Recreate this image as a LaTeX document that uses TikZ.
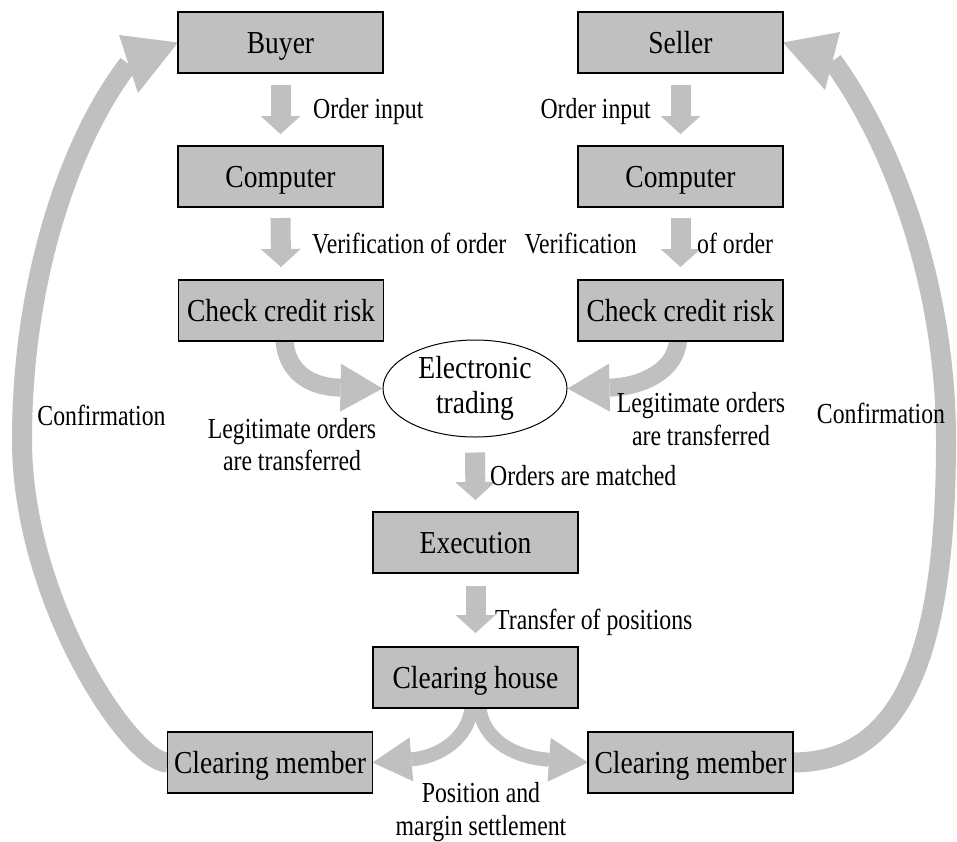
\documentclass[tikz,border=0pt]{standalone}
\usepackage{fontspec}
\setmainfont{Liberation Serif}
\newfontfamily\boxfont{Liberation Serif}[FakeStretch=0.86]
\newfontfamily\lblfont{Liberation Serif}[FakeStretch=0.82]
\usetikzlibrary{shapes.geometric,arrows.meta,backgrounds}
\definecolor{fillgray}{HTML}{C0C0C0}
\begin{document}
\begin{tikzpicture}[x=1pt,y=-1pt,
  box/.style={draw=black, line width=1.2pt, fill=fillgray, minimum width=205pt, minimum height=61pt,
    inner sep=0pt, outer sep=0pt, font=\boxfont\fontsize{32}{36}\selectfont, text height=21pt, text depth=0pt},
  lbl/.style={inner sep=0pt, font=\lblfont\fontsize{29}{33}\selectfont},
  vflow/.style={draw=fillgray, line width=20pt, -{Triangle[width=40pt,length=18pt,line width=0pt]}},
  midflow/.style={draw=fillgray, line width=18pt, -{Triangle[width=48pt,length=42pt,line width=0pt]}},
  forkflow/.style={draw=fillgray, line width=14pt, -{Triangle[width=44pt,length=39pt,line width=0pt]}},
  bigshaft/.style={draw=fillgray, line width=20pt},
  bighead/.style={fill=fillgray}
]
\useasboundingbox (0,0) rectangle (957,841);

% boxes
\node[box] (buyer)  at (280.5,42.5)  {Buyer};
\node[box] (seller) at (680.5,42.5)  {Seller};
\node[box] (compL)  at (280.5,176.5) {Computer};
\node[box] (compR)  at (680.5,176.5) {Computer};
\node[box] (checkL) at (281,310.5)   {Check credit risk};
\node[box] (checkR) at (680.5,310.5) {Check credit risk};
\node[draw=black, line width=1pt, ellipse, minimum width=184pt, minimum height=97pt, inner sep=0pt,
      align=center, font=\boxfont\fontsize{32}{35}\selectfont] (elec) at (475,388.5) {Electronic\\trading};
\node[box] (exec)   at (475.5,542.5) {Execution};
\node[box] (ch)     at (475.5,677.5) {Clearing house};
\node[box] (cmL)    at (270,762.5)   {Clearing member};
\node[box] (cmR)    at (690.5,762.5) {Clearing member};

% labels
\node[lbl, anchor=base west] (oiL)  at (313,118) {Order input};
\node[lbl, anchor=base east] (oiR)  at (651,118) {Order input};
\node[lbl, anchor=base west] (voL)  at (312,253) {Verification of order};
\node[lbl, anchor=base east] (voR1) at (637,253) {Verification};
\node[lbl, anchor=base west] (voR2) at (697,253) {of order};
\node[lbl, anchor=base] (confL) at (101.5,425) {Confirmation};
\node[lbl, anchor=base] (confR) at (881,423) {Confirmation};
\node[lbl, anchor=base] (legL1) at (292,438) {Legitimate orders};
\node[lbl, anchor=base] (legL2) at (292,470) {are transferred};
\node[lbl, anchor=base] (legR1) at (701,412) {Legitimate orders};
\node[lbl, anchor=base] (legR2) at (701,445) {are transferred};
\node[lbl, anchor=base west] (om) at (490,485) {Orders are matched};
\node[lbl, anchor=base west] (tp) at (495,629) {Transfer of positions};
\node[lbl, anchor=base] (pm1) at (481,802) {Position and};
\node[lbl, anchor=base] (pm2) at (481,835) {margin settlement};

\begin{pgfonlayer}{background}
% straight arrows
\draw[vflow] ([yshift=-12pt]buyer.south) -- ([yshift=12pt]compL.north);
\draw[vflow] ([yshift=-12pt]seller.south) -- ([yshift=12pt]compR.north);
\draw[vflow] ([yshift=-11pt]compL.south) -- ([yshift=13pt]checkL.north);
\draw[vflow] ([yshift=-11pt]compR.south) -- ([yshift=13pt]checkR.north);
\draw[vflow] ([yshift=-15pt]elec.south) -- ([yshift=12pt]exec.north);
\draw[vflow] ([yshift=-13pt]exec.south) -- ([yshift=14pt]ch.north);
% curved arrows into the ellipse
\draw[midflow] ([xshift=3.5pt]checkL.south) .. controls (287,372) and (310,387) .. (elec.west);
\draw[midflow] ([xshift=-2.5pt]checkR.south) .. controls (675,372) and (640,387) .. (elec.east);
% fork from clearing house
\draw[forkflow] ([xshift=-4pt]ch.south) .. controls (468,738) and (440,757) .. (cmL.east);
\draw[forkflow] ([xshift=4pt]ch.south) .. controls (483,738) and (511,757) .. (cmR.west);
% big confirmation arrows
\coordinate (hL) at (128.5,64);
\coordinate (hR) at (832.5,61);
\draw[bigshaft] (cmL.west) .. controls (130,762) and (22,600) .. (22,440) .. controls (22,280) and (70,140) .. (hL);
\fill[bighead] (119,35) -- (buyer.west) -- (138,93) -- cycle;
\draw[bigshaft] (cmR.east) .. controls (900,762) and (946,660) .. (946,440) .. controls (946,280) and (890,140) .. (hR);
\fill[bighead] (840,32) -- (seller.east) -- (825,90) -- cycle;
\end{pgfonlayer}
\end{tikzpicture}
\end{document}
